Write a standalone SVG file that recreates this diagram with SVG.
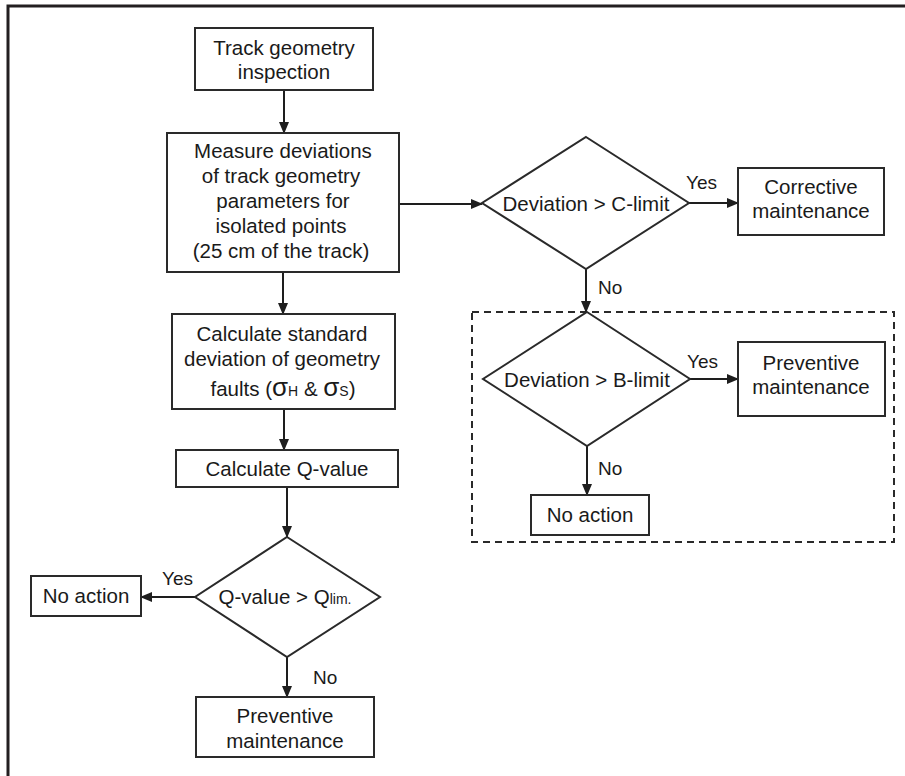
<svg xmlns="http://www.w3.org/2000/svg" width="905" height="776" viewBox="0 0 905 776">
<defs>
<style>
.box{fill:#fff;stroke:#2a2a2a;stroke-width:2}
.t{font-family:"Liberation Sans",Arial,sans-serif;font-size:20.5px;fill:#1a1a1a;text-anchor:middle}
.lbl{font-family:"Liberation Sans",Arial,sans-serif;font-size:19px;fill:#1a1a1a}
.c{fill:none;stroke:#1e1e1e;stroke-width:2;marker-end:url(#ah)}
</style>
<marker id="ah" markerUnits="userSpaceOnUse" markerWidth="12" markerHeight="10" refX="11" refY="5" orient="auto">
<path d="M0,0 L12,5 L0,10 Z" fill="#1e1e1e"/>
</marker>
</defs>
<rect width="905" height="776" fill="#fff"/>
<path d="M8,776 V6 H905" fill="none" stroke="#231f20" stroke-width="3"/>
<rect id="dashed-region" x="472" y="312" width="422" height="230" fill="none" stroke="#2a2a2a" stroke-width="2" stroke-dasharray="7,5"/>

<g id="connectors">
<path class="c" d="M284,90 V133"/>
<path class="c" d="M283,272 V314"/>
<path class="c" d="M284,409 V450"/>
<path class="c" d="M287,487 V537"/>
<path class="c" d="M195,597 H141"/>
<path class="c" d="M287,657 V697"/>
<path class="c" d="M399,204 H482"/>
<path class="c" d="M689,203 H738"/>
<path class="c" d="M586,269 V312"/>
<path class="c" d="M690,379 H738"/>
<path class="c" d="M587,446 V495"/>
<text class="lbl" x="162" y="585">Yes</text>
<text class="lbl" x="313" y="684">No</text>
<text class="lbl" x="686" y="189">Yes</text>
<text class="lbl" x="598" y="294">No</text>
<text class="lbl" x="687" y="368">Yes</text>
<text class="lbl" x="598" y="475">No</text>
</g>

<g id="track-inspection">
<rect class="box" x="195" y="28" width="178" height="62"/>
<text class="t" x="284" y="55">Track geometry</text>
<text class="t" x="284" y="79">inspection</text>
</g>

<g id="measure-deviations">
<rect class="box" x="167" y="133" width="232" height="139"/>
<text class="t" x="283" y="158">Measure deviations</text>
<text class="t" x="281" y="183">of track geometry</text>
<text class="t" x="283" y="208">parameters for</text>
<text class="t" x="281" y="233">isolated points</text>
<text class="t" x="281" y="258">(25 cm of the track)</text>
</g>

<g id="calc-std">
<rect class="box" x="172" y="314" width="223" height="95"/>
<text class="t" x="282" y="341">Calculate standard</text>
<text class="t" x="282" y="366">deviation of geometry</text>
<text class="t" x="283" y="396">faults (<tspan font-size="26">σ</tspan><tspan font-size="14">H</tspan>  &amp; <tspan font-size="26">σ</tspan><tspan font-size="14">S</tspan>)</text>
</g>

<g id="calc-q">
<rect class="box" x="176" y="450" width="222" height="37"/>
<text class="t" x="287" y="476">Calculate Q-value</text>
</g>

<g id="q-decision">
<polygon class="box" points="287,537 380,597 287,657 195,597"/>
<text class="t" x="285" y="604">Q-value &gt; Q<tspan font-size="14">lim.</tspan></text>
</g>

<g id="no-action-left">
<rect class="box" x="31" y="576" width="110" height="40"/>
<text class="t" x="86" y="603">No action</text>
</g>

<g id="preventive-bottom">
<rect class="box" x="196" y="697" width="178" height="60"/>
<text class="t" x="285" y="723">Preventive</text>
<text class="t" x="285" y="748">maintenance</text>
</g>

<g id="c-decision">
<polygon class="box" points="586,137 689,203 586,269 482,203"/>
<text class="t" x="586" y="211">Deviation &gt; C-limit</text>
</g>

<g id="corrective">
<rect class="box" x="738" y="168" width="146" height="67"/>
<text class="t" x="811" y="194">Corrective</text>
<text class="t" x="811" y="218">maintenance</text>
</g>

<g id="b-decision">
<polygon class="box" points="587,312 690,379 587,446 483,379"/>
<text class="t" x="587" y="387">Deviation &gt; B-limit</text>
</g>

<g id="preventive-right">
<rect class="box" x="738" y="342" width="147" height="74"/>
<text class="t" x="811" y="370">Preventive</text>
<text class="t" x="811" y="394">maintenance</text>
</g>

<g id="no-action-right">
<rect class="box" x="531" y="495" width="118" height="40"/>
<text class="t" x="590" y="522">No action</text>
</g>
</svg>
